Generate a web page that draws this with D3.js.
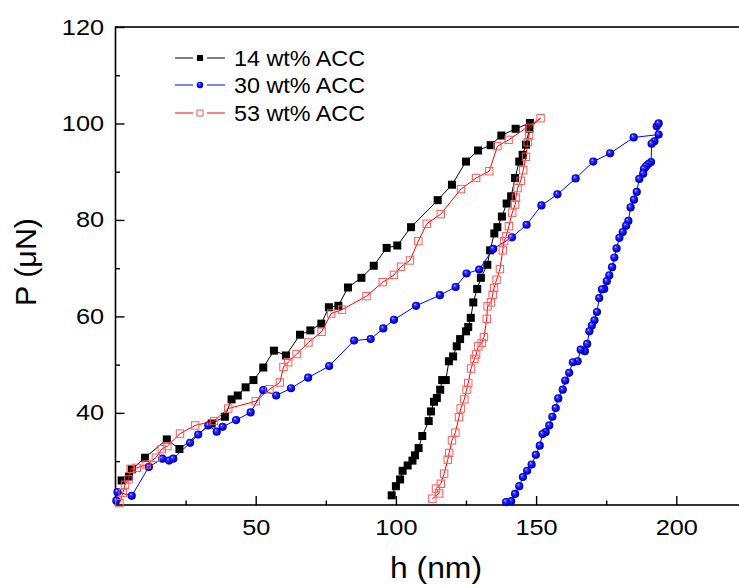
<!DOCTYPE html>
<html>
<head>
<meta charset="utf-8">
<script src="https://cdn.jsdelivr.net/npm/d3@7"></script>
<style>
  body { margin: 0; background: #fff; }
  svg { display: block; font-family: "Liberation Sans", Arial, sans-serif; }
</style>
</head>
<body>
<svg id="chart" width="739" height="585"></svg>
<script>
// 14 wt% ACC : loading then unloading
var h14 = [2.2, 4.8, 5.8, 10.5, 18.3, 22.8, 34.3, 39.0, 41.4, 43.6, 46.4, 49.2, 52.7, 56.5, 60.8, 65.8, 69.5, 73.4, 76.1, 79.5, 82.9, 87.7, 92.1, 96.7, 100.5, 105.4, 114.9, 120.0, 125.0, 129.3, 133.8, 137.6, 142.7, 147.8,
  147.6, 146.4, 145.2, 144.0, 142.5, 141.1, 139.5, 137.8, 136.2, 135.1, 133.6, 132.6, 130.3, 129.0, 127.6, 126.7, 125.8, 125.0, 122.9, 121.7, 120.4, 118.9, 117.8, 116.5, 115.8, 114.6, 113.6, 112.5, 111.7, 109.4, 108.1, 106.8, 105.9, 104.2, 102.4, 101.5, 100.0, 98.5];
var p14 = [26.0, 26.8, 28.3, 30.7, 34.5, 32.5, 37.8, 39.2, 42.8, 43.6, 45.3, 46.8, 49.4, 52.9, 51.9, 56.2, 57.1, 58.5, 61.9, 62.2, 66.0, 68.0, 70.5, 74.2, 74.7, 78.5, 84.1, 87.3, 92.1, 94.4, 95.5, 97.5, 98.9, 100.1,
  98.9, 95.6, 93.5, 92.1, 88.7, 84.9, 83.4, 80.7, 78.5, 77.2, 73.7, 70.7, 68.0, 65.7, 62.9, 59.7, 57.8, 56.9, 55.3, 53.8, 51.7, 50.7, 46.8, 46.8, 44.8, 43.1, 42.3, 40.3, 38.3, 35.2, 32.7, 31.2, 30.1, 29.1, 28.0, 26.2, 24.8, 22.9];

// 30 wt% ACC
var h30 = [0.3, 0.7, 5.8, 11.9, 16.7, 19.1, 20.6, 26.6, 29.5, 33.1, 36.1, 38.2, 43.0, 48.2, 52.7, 57.3, 62.6, 68.7, 76.2, 85.1, 91.0, 95.5, 99.3, 107.2, 115.7, 121.3, 125.2, 129.7, 134.7, 141.4, 146.6, 151.9, 157.6, 164.1, 170.4, 176.4, 184.8, 193.7, 193.0, 193.7,
  192.2, 191.2, 191.0, 190.0, 189.2, 188.5, 188.2, 186.8, 185.9, 184.9, 183.7, 182.9, 182.1, 180.9, 179.7, 178.7, 177.9, 177.1, 176.1, 175.2, 174.3, 173.5, 172.5, 171.7, 170.8, 169.9, 169.0, 168.2, 167.4, 165.9, 164.8, 163.1, 161.8, 160.4, 159.5, 157.9, 157.0, 155.8, 154.7, 153.4, 152.3, 151.3, 149.9, 148.4, 146.8, 145.3, 144.0, 142.5, 141.1, 139.3];
var p30 = [21.8, 23.6, 22.8, 28.8, 30.5, 30.1, 30.5, 33.8, 35.5, 37.4, 36.1, 37.1, 38.5, 40.1, 44.7, 43.6, 45.1, 47.3, 49.7, 55.0, 55.3, 57.5, 59.3, 62.2, 64.4, 66.1, 68.9, 69.7, 74.0, 76.4, 79.0, 83.0, 85.3, 88.6, 92.1, 93.8, 97.1, 97.7, 99.4, 100.0,
  96.3, 95.8, 92.0, 91.6, 91.1, 90.6, 89.6, 88.5, 85.8, 84.2, 82.6, 79.8, 78.8, 77.5, 76.3, 74.1, 72.2, 70.2, 68.5, 67.3, 65.7, 65.6, 63.8, 60.9, 59.2, 58.1, 56.9, 54.3, 52.8, 53.1, 50.7, 50.5, 48.3, 46.7, 44.8, 43.0, 41.0, 39.2, 37.4, 36.0, 35.6, 33.2, 31.3, 29.3, 28.0, 26.7, 24.8, 23.2, 21.7, 21.5];

// 53 wt% ACC
var h53 = [1.4, 2.6, 3.4, 4.6, 5.4, 7.6, 11.1, 14.4, 16.5, 18.5, 23.0, 28.4, 35.1, 40.2, 50.0, 54.9, 58.6, 59.9, 61.6, 64.6, 68.8, 73.5, 76.9, 80.8, 89.5, 95.3, 99.3, 101.8, 105.0, 108.0, 111.0, 116.0, 123.2, 128.6, 133.3, 136.2, 140.2, 151.6,
  147.8, 147.5, 147.0, 146.4, 145.4, 144.5, 143.4, 142.8, 142.5, 141.5, 140.3, 139.3, 138.6, 138.1, 137.1, 135.9, 135.0, 134.5, 133.9, 132.7, 132.4, 131.4, 130.6, 129.4, 128.6, 128.0, 126.8, 125.8, 125.2, 124.4, 123.1, 122.5, 121.2, 120.0, 119.0, 118.5, 117.2, 116.0, 114.3, 115.4, 113.0];
var p53 = [21.3, 23.4, 25.1, 26.2, 28.4, 28.6, 29.3, 30.7, 32.5, 33.1, 35.7, 37.4, 38.3, 40.9, 42.4, 44.9, 46.3, 49.5, 50.5, 52.2, 54.6, 56.8, 60.6, 61.4, 64.2, 67.1, 68.6, 70.3, 71.6, 75.6, 79.2, 81.2, 86.4, 88.7, 90.1, 95.3, 96.6, 101.1,
  99.1, 97.5, 96.1, 93.1, 90.3, 88.1, 86.6, 84.6, 83.2, 81.5, 78.7, 76.6, 75.6, 73.7, 69.8, 67.6, 65.9, 64.5, 62.9, 62.1, 59.5, 55.7, 54.5, 53.8, 52.1, 51.2, 49.2, 46.2, 44.8, 42.8, 40.9, 39.1, 35.9, 34.3, 31.7, 30.3, 27.4, 25.3, 24.3, 23.3, 22.2];

var seriesNames = ["14 wt% ACC", "30 wt% ACC", "53 wt% ACC"];
var xMajor = [50, 100, 150, 200], xMinor = [25, 75, 125, 175, 225];
var yMajor = [40, 60, 80, 100, 120], yMinor = [30, 50, 70, 90, 110];

var svg = d3.select("#chart");
svg.append("rect").attr("width", 739).attr("height", 585).attr("fill", "#fff");

var defs = svg.append("defs");
var grad = defs.append("radialGradient").attr("id", "ball")
  .attr("cx", "0.5").attr("cy", "0.5").attr("r", "0.55").attr("fx", "0.35").attr("fy", "0.3");
grad.append("stop").attr("offset", "0%").attr("stop-color", "#e8e8ff");
grad.append("stop").attr("offset", "25%").attr("stop-color", "#3a3aff");
grad.append("stop").attr("offset", "70%").attr("stop-color", "#0000e6");
grad.append("stop").attr("offset", "100%").attr("stop-color", "#00008a");

var x = d3.scaleLinear().domain([0, 225]).range([115.5, 746.4]);
var y = d3.scaleLinear().domain([20.9, 120]).range([505, 27]);

//frame
svg.append("rect")
  .attr("x", x(0)).attr("y", y(120))
  .attr("width", x(225) - x(0)).attr("height", y(20.9) - y(120))
  .attr("fill", "none").attr("stroke", "#000").attr("stroke-width", 1.6);

function styleAxis(g) {
  g.select(".domain").remove();
  g.selectAll("line").attr("stroke", "#000").attr("stroke-width", 1.4);
  g.selectAll("text").attr("font-size", "22px").attr("fill", "#000")
    .attr("font-family", "'Liberation Sans', Arial, sans-serif");
}

svg.append("g").attr("transform", "translate(0,505)")
  .call(d3.axisBottom(x).tickValues(xMajor).tickSize(-9).tickPadding(14).tickFormat(d3.format("d")))
  .call(styleAxis)
  .selectAll("text").attr("transform", "scale(1.15,1)");
svg.append("g").attr("transform", "translate(0,505)")
  .call(d3.axisBottom(x).tickValues(xMinor).tickSize(-4.5).tickFormat(""))
  .call(styleAxis);
svg.append("g").attr("transform", "translate(115.5,0)")
  .call(d3.axisLeft(y).tickValues(yMajor).tickSize(-9).tickPadding(10).tickFormat(d3.format("d")))
  .call(styleAxis)
  .selectAll("text").attr("transform", "scale(1.15,1)");
svg.append("g").attr("transform", "translate(115.5,0)")
  .call(d3.axisLeft(y).tickValues(yMinor).tickSize(-4.5).tickFormat(""))
  .call(styleAxis);

// axis titles
svg.append("text").attr("x", 436).attr("y", 578).attr("text-anchor", "middle")
  .attr("font-size", "29px").attr("textLength", 92).attr("lengthAdjust", "spacingAndGlyphs").text("h (nm)");
svg.append("text").attr("transform", "translate(36,262) rotate(-90)").attr("text-anchor", "middle")
  .attr("font-size", "29px").attr("textLength", 88).attr("lengthAdjust", "spacingAndGlyphs").text("P (\u03bcN)");

var plot = svg.append("g");
var line = d3.line().x(function (d) { return x(d[0]); }).y(function (d) { return y(d[1]); });

function pts(hs, ps) {
  return hs.map(function (h, i) { return [h, ps[i]]; });
}

var d14 = pts(h14, p14), d30 = pts(h30, p30), d53 = pts(h53, p53);

// 14 wt%
plot.append("path").datum(d14).attr("d", line).attr("fill", "none").attr("stroke", "#000").attr("stroke-width", 1);
plot.selectAll(".s14").data(d14).enter().append("rect")
  .attr("x", function (d) { return x(d[0]) - 4; })
  .attr("y", function (d) { return y(d[1]) - 4; })
  .attr("width", 8).attr("height", 8).attr("fill", "#000");

// 30 wt%
plot.append("path").datum(d30).attr("d", line).attr("fill", "none").attr("stroke", "#0000ff").attr("stroke-width", 1);
plot.selectAll(".s30").data(d30).enter().append("circle")
  .attr("cx", function (d) { return x(d[0]); })
  .attr("cy", function (d) { return y(d[1]); })
  .attr("r", 4.1).attr("fill", "url(#ball)");

// 53 wt%
plot.append("path").datum(d53).attr("d", line).attr("fill", "none").attr("stroke", "#ff0000").attr("stroke-width", 1);
plot.selectAll(".s53").data(d53).enter().append("rect")
  .attr("x", function (d) { return x(d[0]) - 3.7; })
  .attr("y", function (d) { return y(d[1]) - 3.7; })
  .attr("width", 7.4).attr("height", 7.4)
  .attr("fill", "none").attr("stroke", "#ff5a5a").attr("stroke-width", 1);

// legend
var legendY = [58, 85, 113];
var legendColors = ["#000", "#0000ff", "#ff0000"];
var leg = svg.append("g");
seriesNames.forEach(function (name, i) {
  var ly = legendY[i];
  leg.append("line").attr("x1", 175).attr("x2", 193).attr("y1", ly).attr("y2", ly).attr("stroke", legendColors[i]);
  leg.append("line").attr("x1", 207).attr("x2", 225).attr("y1", ly).attr("y2", ly).attr("stroke", legendColors[i]);
  if (i === 0) {
    leg.append("rect").attr("x", 197).attr("y", ly - 3).attr("width", 6).attr("height", 6).attr("fill", "#000");
  } else if (i === 1) {
    leg.append("circle").attr("cx", 200).attr("cy", ly).attr("r", 3.3).attr("fill", "url(#ball)");
  } else {
    leg.append("rect").attr("x", 197).attr("y", ly - 3).attr("width", 6).attr("height", 6)
      .attr("fill", "none").attr("stroke", "#ff5a5a");
  }
  leg.append("text").attr("x", 234).attr("y", ly + 8).attr("font-size", "22px")
    .attr("textLength", 131).attr("lengthAdjust", "spacingAndGlyphs").text(name);
});
</script>
</body>
</html>
